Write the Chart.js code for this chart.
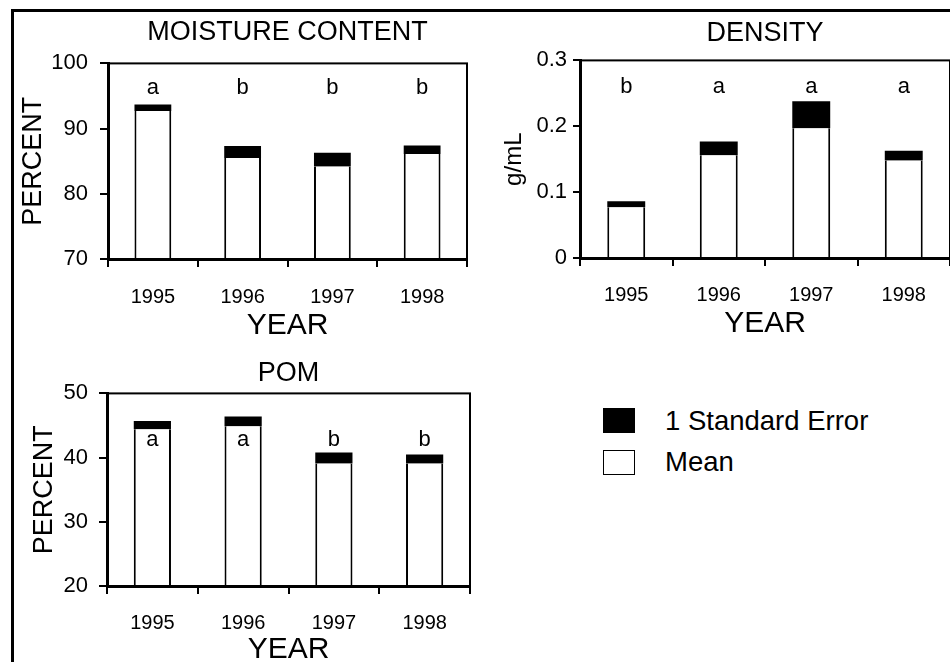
<!DOCTYPE html>
<html>
<head>
<meta charset="utf-8">
<script src="https://cdn.jsdelivr.net/npm/chart.js@4"></script>
<style>
  html, body { margin: 0; padding: 0; background: #fff; overflow: hidden; }
  body { width: 950px; height: 662px; position: relative; font-family: "Liberation Sans", Arial, sans-serif; }
  #frame { position: absolute; left: 11px; top: 9px; width: 960px; height: 700px;
           border-left: 3px solid #000; border-top: 3px solid #000; }
  canvas { position: absolute; }
  #moisture { left: 15px; top: 12px; }
  #density { left: 480px; top: 12px; }
  #pom { left: 15px; top: 350px; }
  .key { position: absolute; left: 603px; width: 32px; height: 25px; box-sizing: border-box; border: 1.5px solid #000; }
  .keytext { position: absolute; left: 665px; font-size: 27.5px; line-height: 30px; color: #000; }
</style>
</head>
<body>
<div id="frame"></div>
<canvas id="moisture" width="462" height="335"></canvas>
<canvas id="density" width="470" height="335"></canvas>
<canvas id="pom" width="465" height="318"></canvas>

<div class="key" style="top:408px;background:#000"></div>
<div class="keytext" style="top:406px">1 Standard Error</div>
<div class="key" style="top:450px;background:#fff"></div>
<div class="keytext" style="top:447px">Mean</div>

<script>
const years = ['1995', '1996', '1997', '1998'];

// moisture content, percent
const moistureMean = [92.7, 85.5, 84.2, 86.1];
const moistureSE = [1.0, 1.85, 2.1, 1.3];
const moistureLetters = ['a', 'b', 'b', 'b'];
const moistureLetterY = 96.2;

// density, g/mL
const densityMean = [0.077, 0.156, 0.197, 0.148];
const densitySE = [0.009, 0.021, 0.041, 0.015];
const densityLetters = ['b', 'a', 'a', 'a'];
const densityLetterY = 0.259;

// POM, percent
const pomMean = [44.4, 44.9, 39.1, 39.1];
const pomSE = [1.3, 1.5, 1.7, 1.4];
const pomLetters = ['a', 'a', 'b', 'b'];
const pomLetterY = 42.7;

const FONT = '"Liberation Sans", Arial, sans-serif';

// box round the plot area (top and right sides)
const framePlugin = {
  id: 'frame',
  afterDraw(chart) {
    const a = chart.chartArea;
    const ctx = chart.ctx;
    ctx.save();
    ctx.strokeStyle = '#000';
    ctx.lineWidth = 2;
    ctx.strokeRect(a.left, a.top, a.right - a.left, a.bottom - a.top);
    ctx.restore();
  }
};

// the a / b letters above the bars
const lettersPlugin = {
  id: 'letters',
  afterDatasetsDraw(chart, args, opts) {
    const ctx = chart.ctx;
    const x = chart.scales.x, y = chart.scales.y;
    ctx.save();
    ctx.fillStyle = '#000';
    ctx.font = '22px ' + FONT;
    ctx.textAlign = 'center';
    ctx.textBaseline = 'middle';
    opts.letters.forEach((l, i) => {
      ctx.fillText(l, x.getPixelForValue(i), y.getPixelForValue(opts.at));
    });
    ctx.restore();
  }
};

function makeChart(id, o) {
  return new Chart(document.getElementById(id), {
    type: 'bar',
    data: {
      labels: years,
      datasets: [
        { label: 'Mean', data: o.mean, backgroundColor: '#fff', borderColor: '#000',
          borderWidth: { left: 2, right: 2, top: 0, bottom: 0 } },
        { label: '1 Standard Error', data: o.se, backgroundColor: '#000', borderWidth: 0 }
      ]
    },
    options: {
      responsive: false,
      animation: false,
      devicePixelRatio: 1,
      categoryPercentage: 1,
      barPercentage: 0.41,
      layout: { padding: { left: 0, right: o.padRight, top: 0, bottom: 0 } },
      plugins: {
        legend: { display: false },
        tooltip: { enabled: false },
        title: {
          display: true, text: o.title, fullSize: false, color: '#000',
          font: { family: FONT, size: 27, weight: 'normal' },
          padding: o.titlePad
        },
        letters: { letters: o.letters, at: o.letterY }
      },
      scales: {
        x: {
          stacked: true,
          grid: { offset: true, drawOnChartArea: false, drawTicks: true, tickLength: 8, color: '#000', lineWidth: 2 },
          border: { display: true, color: '#000', width: 3 },
          ticks: { color: '#000', font: { family: FONT, size: 20 }, padding: o.xTickPad, maxRotation: 0 },
          title: { display: true, text: 'YEAR', color: '#000', font: { family: FONT, size: 30 }, padding: { top: 0, bottom: o.xTitlePad } },
          afterFit: s => { s.height = o.xHeight; }
        },
        y: {
          stacked: true,
          min: o.min, max: o.max,
          grid: { drawOnChartArea: false, drawTicks: true, tickLength: o.yTickLen, color: '#000', lineWidth: 2 },
          border: { display: true, color: '#000', width: 3 },
          ticks: { stepSize: o.step, color: '#000', font: { family: FONT, size: 22 }, padding: o.yTickPad },
          title: { display: true, text: o.yTitle, color: '#000', font: { family: FONT, size: o.yTitleSize }, padding: { top: o.yTitlePad, bottom: 0 } },
          afterFit: s => { s.width = o.yWidth; }
        }
      }
    },
    plugins: [framePlugin, lettersPlugin]
  });
}

makeChart('moisture', {
  title: 'MOISTURE CONTENT', mean: moistureMean, se: moistureSE,
  letters: moistureLetters, letterY: moistureLetterY,
  min: 70, max: 100, step: 10, yTitle: 'PERCENT', yTitleSize: 27, yTitlePad: 2,
  titlePad: { top: 4, bottom: 15 }, padRight: 10, yWidth: 93, xHeight: 88,
  xTickPad: 18, xTitlePad: 3, yTickLen: 8, yTickPad: 12
});

makeChart('density', {
  title: 'DENSITY', mean: densityMean, se: densitySE,
  letters: densityLetters, letterY: densityLetterY,
  min: 0, max: 0.3, step: 0.1, yTitle: 'g/mL', yTitleSize: 24, yTitlePad: 20,
  titlePad: { top: 5, bottom: 11 }, padRight: 0, yWidth: 100, xHeight: 89,
  xTickPad: 17, xTitlePad: 5, yTickLen: 7, yTickPad: 6
});

makeChart('pom', {
  title: 'POM', mean: pomMean, se: pomSE,
  letters: pomLetters, letterY: pomLetterY,
  min: 20, max: 50, step: 10, yTitle: 'PERCENT', yTitleSize: 27, yTitlePad: 13,
  titlePad: { top: 7, bottom: 4 }, padRight: 10, yWidth: 92, xHeight: 82,
  xTickPad: 17, xTitlePad: 0, yTickLen: 8, yTickPad: 11
});
</script>
</body>
</html>
